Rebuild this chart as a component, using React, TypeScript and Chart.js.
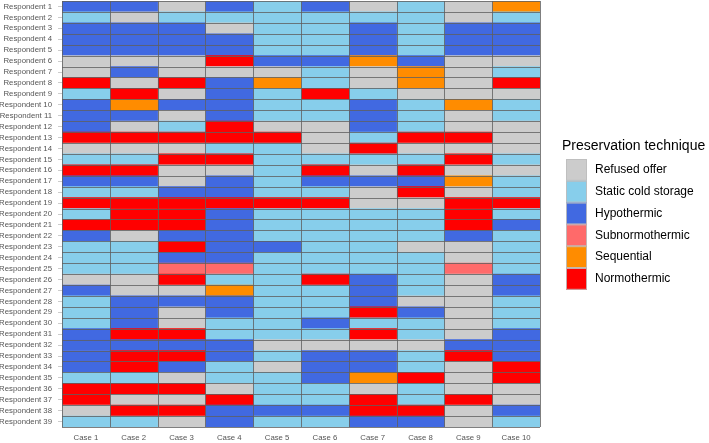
import React, { useEffect, useRef } from "react";
import { Chart, registerables } from "chart.js";

Chart.register(...registerables);

const cases = ["Case 1", "Case 2", "Case 3", "Case 4", "Case 5", "Case 6", "Case 7", "Case 8", "Case 9", "Case 10"];

const respondents = [
  "Respondent 1", "Respondent 2", "Respondent 3", "Respondent 4", "Respondent 5",
  "Respondent 6", "Respondent 7", "Respondent 8", "Respondent 9", "Respondent 10",
  "Respondent 11", "Respondent 12", "Respondent 13", "Respondent 14", "Respondent 15",
  "Respondent 16", "Respondent 17", "Respondent 18", "Respondent 19", "Respondent 20",
  "Respondent 21", "Respondent 22", "Respondent 23", "Respondent 24", "Respondent 25",
  "Respondent 26", "Respondent 27", "Respondent 28", "Respondent 29", "Respondent 30",
  "Respondent 31", "Respondent 32", "Respondent 33", "Respondent 34", "Respondent 35",
  "Respondent 36", "Respondent 37", "Respondent 38", "Respondent 39",
];

// Technique codes: R refused, S static cold, H hypothermic, U subnormothermic, Q sequential, N normothermic
const techniqueCodes = ["R", "S", "H", "U", "Q", "N"];
const techniques = ["Refused offer", "Static cold storage", "Hypothermic", "Subnormothermic", "Sequential", "Normothermic"];
const techniqueColors = ["#CCCCCC", "#87CEEB", "#4169E1", "#FF6A6A", "#FF8C00", "#FF0000"];

// One string per respondent, one code per case (Case 1 .. Case 10)
const responses = [
  "HHRHSHRSRQ",
  "SRSSSSSSRS",
  "HHHRSSHSHH",
  "HHHHSSHSHH",
  "HHHHSSHSHH",
  "RRRNHHQHRR",
  "RHRRRSRQRS",
  "NRNHQSRQRN",
  "SNRHSNSRRR",
  "HQHHSSHSQS",
  "HHRHSSHSRS",
  "HRSNRRHSRR",
  "NNNNNRSNNR",
  "RRRSSRNRRR",
  "SSNNSSSSNS",
  "NNRRSNRNRR",
  "HHRHSHHHQS",
  "SSHHSSRNRS",
  "NNNNNNRRNN",
  "SNNHSSSSNS",
  "NNNHSSSSNH",
  "HRHHSSSSHS",
  "SSNHHSSRRS",
  "SSHHSSSSRS",
  "SSUUSSSSUS",
  "RRNSSNHSRH",
  "HRRQSSHSRH",
  "SHHHSSHRRS",
  "SHRHSSNHRS",
  "SHRSSHSSRS",
  "HNNSSSNSRH",
  "HHHHRRRRHH",
  "HNNHSHHSNH",
  "HNHSRHHSRN",
  "SSRSSHQNRN",
  "NNNRSSRSRR",
  "NRRNSSNSNR",
  "RNNHHHNNRH",
  "SSRHSSHHRS",
];

const FONT = "'Liberation Sans', Arial, Helvetica, sans-serif";

const colorFor = (code: string) => techniqueColors[techniqueCodes.indexOf(code)];

const cellGridPlugin = {
  id: "cellGrid",
  afterDatasetsDraw(chart: any) {
    const { ctx, chartArea, scales } = chart;
    const { left, right, top, bottom } = chartArea;
    const x = scales.x;
    const y = scales.y;
    ctx.save();
    ctx.strokeStyle = "rgba(95,95,95,0.8)";
    ctx.lineWidth = 1;
    ctx.beginPath();
    for (let i = 0; i <= cases.length; i++) {
      const px = Math.round(x.getPixelForValue(i)) + 0.5;
      ctx.moveTo(px, top);
      ctx.lineTo(px, bottom);
    }
    for (let j = 0; j <= respondents.length; j++) {
      const py = Math.round(y.getPixelForValue(j - 0.5)) + 0.5;
      ctx.moveTo(left, py);
      ctx.lineTo(right, py);
    }
    ctx.stroke();
    ctx.restore();
  },
};

const legendPlugin = {
  id: "customLegend",
  afterDraw(chart: any) {
    const { ctx, chartArea } = chart;
    const cy = (chartArea.top + chartArea.bottom) / 2;
    const lx = chartArea.right + 26;
    ctx.save();
    ctx.fillStyle = "#000";
    ctx.font = `14px ${FONT}`;
    ctx.textAlign = "left";
    ctx.textBaseline = "middle";
    ctx.fillText("Preservation technique", lx - 4, cy - 68);
    const boxW = 21;
    const boxH = 21.8;
    const y0 = cy - 55;
    ctx.font = `12px ${FONT}`;
    techniques.forEach((t, i) => {
      const by = y0 + i * boxH;
      ctx.fillStyle = techniqueColors[i];
      ctx.fillRect(lx, by, boxW, boxH);
      ctx.strokeStyle = "rgba(190,190,190,0.9)";
      ctx.lineWidth = 1;
      ctx.strokeRect(lx + 0.5, by + 0.5, boxW - 1, boxH - 1);
      ctx.fillStyle = "#000";
      ctx.fillText(t, lx + 29, by + boxH / 2);
    });
    ctx.restore();
  },
};

export default function App() {
  const canvasRef = useRef<HTMLCanvasElement | null>(null);

  useEffect(() => {
    document.body.style.margin = "0";
    const canvas = canvasRef.current;
    if (!canvas) return;

    const datasets = cases.map((c, ci) => ({
      label: c,
      data: respondents.map(() => 1),
      backgroundColor: responses.map((r) => colorFor(r[ci])),
      borderWidth: 0,
      barPercentage: 1,
      categoryPercentage: 1,
    }));

    const chart = new Chart(canvas, {
      type: "bar",
      data: { labels: respondents, datasets },
      plugins: [cellGridPlugin, legendPlugin],
      options: {
        indexAxis: "y",
        responsive: false,
        animation: false,
        layout: { padding: { top: 1, right: 169, bottom: 0, left: 0 } },
        plugins: {
          legend: { display: false },
          tooltip: { enabled: false },
        },
        scales: {
          x: {
            type: "linear",
            stacked: true,
            min: 0,
            max: cases.length,
            grid: { display: false, drawTicks: false },
            border: { display: false },
            afterBuildTicks: (scale: any) => {
              scale.ticks = cases.map((_, i) => ({ value: i + 0.5 }));
            },
            ticks: {
              autoSkip: false,
              maxRotation: 0,
              padding: 6,
              color: "#555",
              font: { family: FONT, size: 7.8 },
              callback: (_v: any, idx: number) => cases[idx],
            },
            afterFit: (scale: any) => {
              scale.height = 16;
              scale.paddingLeft = 0;
              scale.paddingRight = 0;
            },
          },
          y: {
            type: "category",
            stacked: true,
            grid: { drawOnChartArea: false, drawTicks: true, tickLength: 4, offset: false, color: "#cccccc" },
            border: { display: false },
            ticks: {
              autoSkip: false,
              padding: 6,
              color: "#555",
              font: { family: FONT, size: 7.8 },
            },
            afterFit: (scale: any) => {
              scale.width = 62;
              scale.paddingTop = 0;
              scale.paddingBottom = 0;
            },
          },
        },
      },
    } as any);

    return () => chart.destroy();
  }, []);

  return (
    <div style={{ position: "absolute", left: 0, top: 0, width: 709, height: 443, background: "#fff" }}>
      <canvas ref={canvasRef} width={709} height={443} style={{ display: "block" }} />
    </div>
  );
}
